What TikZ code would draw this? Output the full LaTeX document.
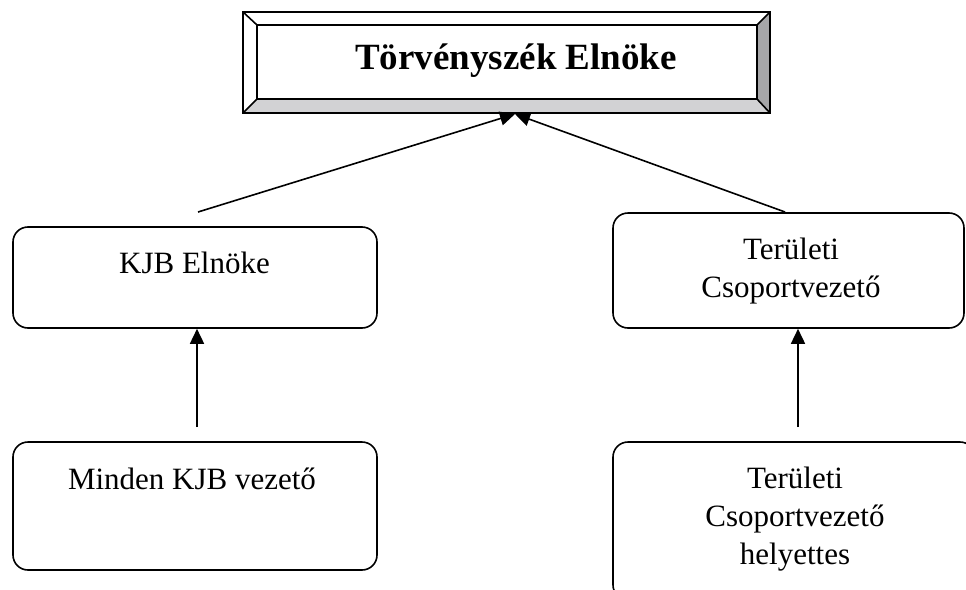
\documentclass[tikz,border=0pt]{standalone}
\usepackage{fontspec}
\setmainfont{Liberation Serif}
\usetikzlibrary{arrows.meta}
\definecolor{bevellight}{HTML}{D2D2D4}
\definecolor{beveldark}{HTML}{A6A6A8}
\begin{document}
\begin{tikzpicture}[x=1pt,y=-1pt,
  box/.style={draw,line width=1.6pt,rounded corners=15pt,inner sep=0pt},
  lbl/.style={font=\fontsize{31}{38}\selectfont,align=center,inner sep=0pt},
  ttl/.style={font=\fontsize{37}{44}\selectfont\bfseries,inner sep=0pt},
  link/.style={line width=1.6pt,-{Triangle[length=15pt,width=14pt]}},
  frame/.style={line width=1.6pt}]
\useasboundingbox (0,0) rectangle (966,589);
\clip (0,0) rectangle (966,589);

% framed title panel with bevelled edges
\fill[white] (243,12) rectangle (770,113);
\fill[bevellight] (243,113) -- (770,113) -- (757,99) -- (257,99) -- cycle;
\fill[beveldark] (770,12) -- (770,113) -- (757,99) -- (757,25) -- cycle;
\draw[frame] (243,12) rectangle (770,113);
\draw[frame] (257,25) rectangle (757,99);
\draw[frame] (243,12) -- (257,25) (770,12) -- (757,25)
             (243,113) -- (257,99) (770,113) -- (757,99);
\node[minimum width=527pt,minimum height=101pt,inner sep=0pt] (pres) at (506.5,62.5) {};
\node[ttl] (presT) at (516,61) {Törvényszék Elnöke};

% subordinate boxes
\node[box,minimum width=364pt,minimum height=101pt] (kjb) at (195,277.5) {};
\node[lbl] (kjbT) at (194.5,263) {KJB Elnöke};

\node[box,minimum width=351pt,minimum height=115pt] (ter) at (788.5,270.5) {};
\node[lbl] (terT) at (791,271) {Területi\\Csoportvezető};

\node[box,minimum width=364pt,minimum height=128pt] (minden) at (195,506) {};
\node[lbl] (mindenT) at (192,479) {Minden KJB vezető};

\node[box,minimum width=362pt,minimum height=158pt] (terh) at (794,521) {};
\node[lbl] (terhT) at (795,519) {Területi\\Csoportvezető\\helyettes};

% reporting lines
\coordinate (tip) at (515,114);
\coordinate (sL) at (198,212);
\coordinate (sR) at (785,212);
\coordinate (sA) at (197,427);
\coordinate (sB) at (798,427);

\draw[link] (sL) -- (tip);
\draw[link] (sR) -- (tip);
\draw[link] (sA) -- (sA |- kjb.south);
\draw[link] (sB) -- (sB |- ter.south);
\end{tikzpicture}
\end{document}
